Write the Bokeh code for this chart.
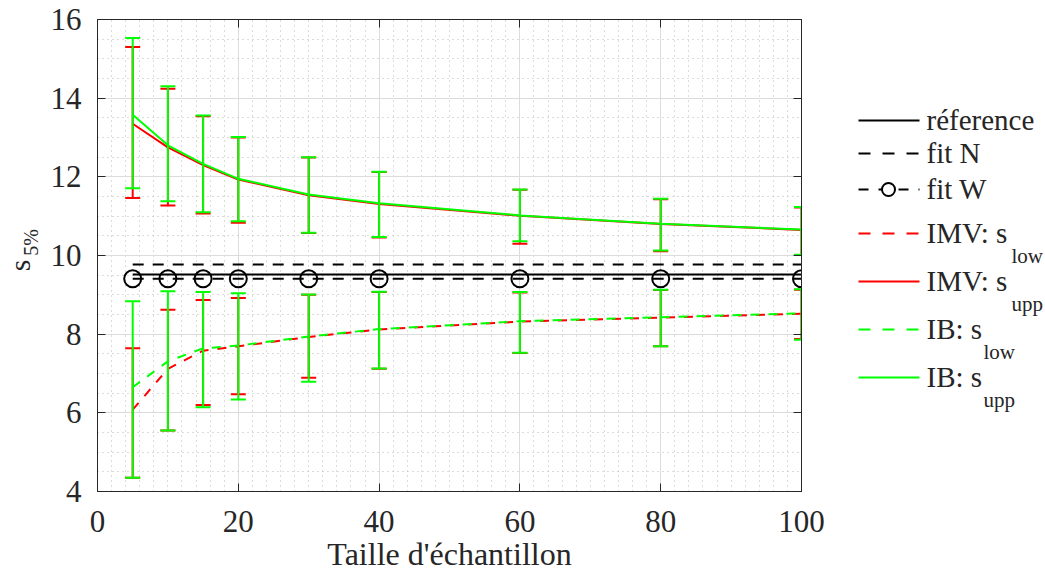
from math import pi
from bokeh.plotting import figure
from bokeh.models import Range1d, FixedTicker, LinearAxis, CustomJSTickFormatter
from bokeh.layouts import row
from bokeh.embed import file_html
from bokeh.resources import INLINE
from bokeh.core.properties import value

# ---------------- data ----------------
n = [5, 10, 15, 20, 30, 40, 60, 80, 100]
reference = 9.52
fit_n = 9.77
fit_w = 9.41

imv_low = [6.08, 7.12, 7.58, 7.69, 7.93, 8.12, 8.32, 8.42, 8.52]
imv_upp = [13.35, 12.75, 12.30, 11.93, 11.53, 11.31, 11.01, 10.80, 10.65]
ib_low = [6.65, 7.31, 7.64, 7.71, 7.94, 8.13, 8.33, 8.43, 8.53]
ib_upp = [13.58, 12.80, 12.33, 11.95, 11.55, 11.33, 11.02, 10.81, 10.66]

# error bar bounds
imv_low_lo = [4.35, 5.55, 6.20, 6.47, 6.89, 7.12, 7.52, 7.69, 7.88]
imv_low_hi = [7.64, 8.62, 8.87, 8.92, 9.00, 9.07, 9.06, 9.12, 9.13]
ib_low_lo = [4.35, 5.55, 6.14, 6.34, 6.79, 7.13, 7.53, 7.69, 7.86]
ib_low_hi = [8.84, 9.09, 9.07, 9.04, 9.01, 9.08, 9.07, 9.13, 9.14]

imv_upp_lo = [11.46, 11.27, 11.07, 10.83, 10.57, 10.46, 10.30, 10.11, 10.01]
imv_upp_hi = [15.30, 14.24, 13.54, 13.00, 12.49, 12.12, 11.67, 11.43, 11.22]
ib_upp_lo = [11.71, 11.38, 11.10, 10.87, 10.58, 10.47, 10.36, 10.13, 10.02]
ib_upp_hi = [15.53, 14.30, 13.56, 13.01, 12.50, 12.13, 11.68, 11.44, 11.23]

x_ticks = [0, 20, 40, 60, 80, 100]
y_ticks = [4, 6, 8, 10, 12, 14, 16]
x_minor = list(range(0, 101, 2))
y_minor = [4 + 0.5 * i for i in range(25)]

legend_labels = ["réference", "fit N", "fit W", "IMV: s", "IMV: s", "IB: s", "IB: s"]
legend_subs = ["", "", "", "low", "upp", "low", "upp"]

FONT = "Liberation Serif"
TXT = "#262626"
RED = "#ff0000"
GREEN = "#00ff00"
H = 576
TOP, FRAME_H = 19, 472
BOTTOM = H - TOP - FRAME_H
W0 = 45            # y-label panel width
PW = 825 - W0      # main figure width (frame 97..801 on page)


def side_panel(width):
    f = figure(width=width, height=H, x_range=Range1d(0, width),
               y_range=Range1d(TOP + FRAME_H, TOP),
               output_backend="svg", toolbar_location=None,
               min_border_left=0, min_border_right=0,
               min_border_top=TOP, min_border_bottom=BOTTOM,
               x_axis_type=None, y_axis_type=None)
    f.outline_line_color = None
    f.grid.visible = False
    return f


# ---------------- y-label panel ----------------
p0 = side_panel(W0)
p0.text([19], [265], text=["s"], angle=pi / 2, text_font=value(FONT), text_font_size="30px",
        text_color=TXT, text_align="center", text_baseline="middle")
p0.text([30], [242], text=["5%"], angle=pi / 2, text_font=value(FONT), text_font_size="20px",
        text_color=TXT, text_align="center", text_baseline="middle")

# ---------------- main figure ----------------
p = figure(width=PW, height=H, x_range=Range1d(0, 100), y_range=Range1d(4, 16),
           output_backend="svg", toolbar_location=None,
           min_border_left=97 - W0, min_border_right=PW - (801 - W0),
           min_border_top=TOP, min_border_bottom=BOTTOM)
p.outline_line_color = TXT
p.background_fill_color = "white"

xax = p.xaxis[0]
yax = p.yaxis[0]
xax.ticker = FixedTicker(ticks=x_ticks, minor_ticks=x_minor)
yax.ticker = FixedTicker(ticks=y_ticks, minor_ticks=y_minor)
for ax in (xax, yax):
    ax.major_tick_in = 8
    ax.major_tick_out = 0
    ax.minor_tick_line_color = None
    ax.axis_line_color = TXT
    ax.major_tick_line_color = TXT
    ax.major_label_text_font = FONT
    ax.major_label_text_font_size = "31px"
    ax.major_label_text_color = TXT
xax.major_label_standoff = 15
yax.major_label_standoff = 12
xax.axis_label = "Taille d'échantillon"
xax.axis_label_text_font = FONT
xax.axis_label_text_font_size = "32px"
xax.axis_label_text_font_style = "normal"
xax.axis_label_text_color = TXT
xax.axis_label_standoff = 1

for loc, tk in (("above", x_ticks), ("right", y_ticks)):
    ax = LinearAxis(ticker=FixedTicker(ticks=tk), formatter=CustomJSTickFormatter(code="return ''"),
                    major_tick_in=8, major_tick_out=0, minor_tick_line_color=None,
                    axis_line_color=TXT, major_tick_line_color=TXT, major_label_standoff=0)
    p.add_layout(ax, loc)

p.xgrid.ticker = FixedTicker(ticks=x_ticks, minor_ticks=x_minor)
p.ygrid.ticker = FixedTicker(ticks=y_ticks, minor_ticks=y_minor)
for g in (p.xgrid, p.ygrid):
    g.grid_line_color = "#dcdcdc"
    g.grid_line_width = 1
    g.minor_grid_line_color = "#b8b8b8"
    g.minor_grid_line_dash = "1 4"
    g.minor_grid_line_width = 1

# black reference lines
p.line(n, [reference] * len(n), line_color="black", line_width=2)
p.line(n, [fit_n] * len(n), line_color="black", line_width=2, line_dash="11 9")
p.line(n, [fit_w] * len(n), line_color="black", line_width=2, line_dash="11 9")
p.scatter(n, [fit_w] * len(n), marker="circle", size=17, fill_color=None,
          line_color="black", line_width=2)


def errbar(lo, hi, color):
    p.segment(x0=n, y0=lo, x1=n, y1=hi, line_color=color, line_width=2)
    p.scatter(x=n + n, y=lo + hi, marker="dash", size=15, line_color=color, line_width=2)


errbar(imv_low_lo, imv_low_hi, RED)
p.line(n, imv_low, line_color=RED, line_width=2, line_dash="9 9")
errbar(imv_upp_lo, imv_upp_hi, RED)
p.line(n, imv_upp, line_color=RED, line_width=2)
errbar(ib_low_lo, ib_low_hi, GREEN)
p.line(n, ib_low, line_color=GREEN, line_width=2, line_dash="9 9")
errbar(ib_upp_lo, ib_upp_hi, GREEN)
p.line(n, ib_upp, line_color=GREEN, line_width=2)

# ---------------- legend panel ----------------
X2 = W0 + PW
W2 = 1045 - X2
p2 = side_panel(W2)

row_y = [120, 153, 189, 233, 281, 329, 377]
colors = ["black", "black", "black", RED, RED, GREEN, GREEN]
dashes = ["solid", "12 12", "10 10", "12 12", "solid", "12 12", "solid"]
x0, x1, tx = 858 - X2, 919 - X2, 926 - X2
for i, lab in enumerate(legend_labels):
    y = row_y[i]
    p2.line([x0, x1], [y, y], line_color=colors[i], line_width=2, line_dash=dashes[i])
    if i == 2:
        p2.scatter([x0 + 30], [y], marker="circle", size=13, fill_color="white",
                   line_color="black", line_width=2)
    p2.text([tx], [y - 1], text=[lab], text_font=value(FONT), text_font_size="29px",
            text_color=TXT, text_baseline="middle", text_align="left")
    if legend_subs[i]:
        sx = tx + (85 if lab.startswith("IMV") else 57)
        p2.text([sx], [y + 22], text=[legend_subs[i]], text_font=value(FONT),
                text_font_size="21px", text_color=TXT, text_baseline="alphabetic",
                text_align="left")

layout = row(p0, p, p2)
open("out.html", "w").write(file_html(layout, INLINE))
